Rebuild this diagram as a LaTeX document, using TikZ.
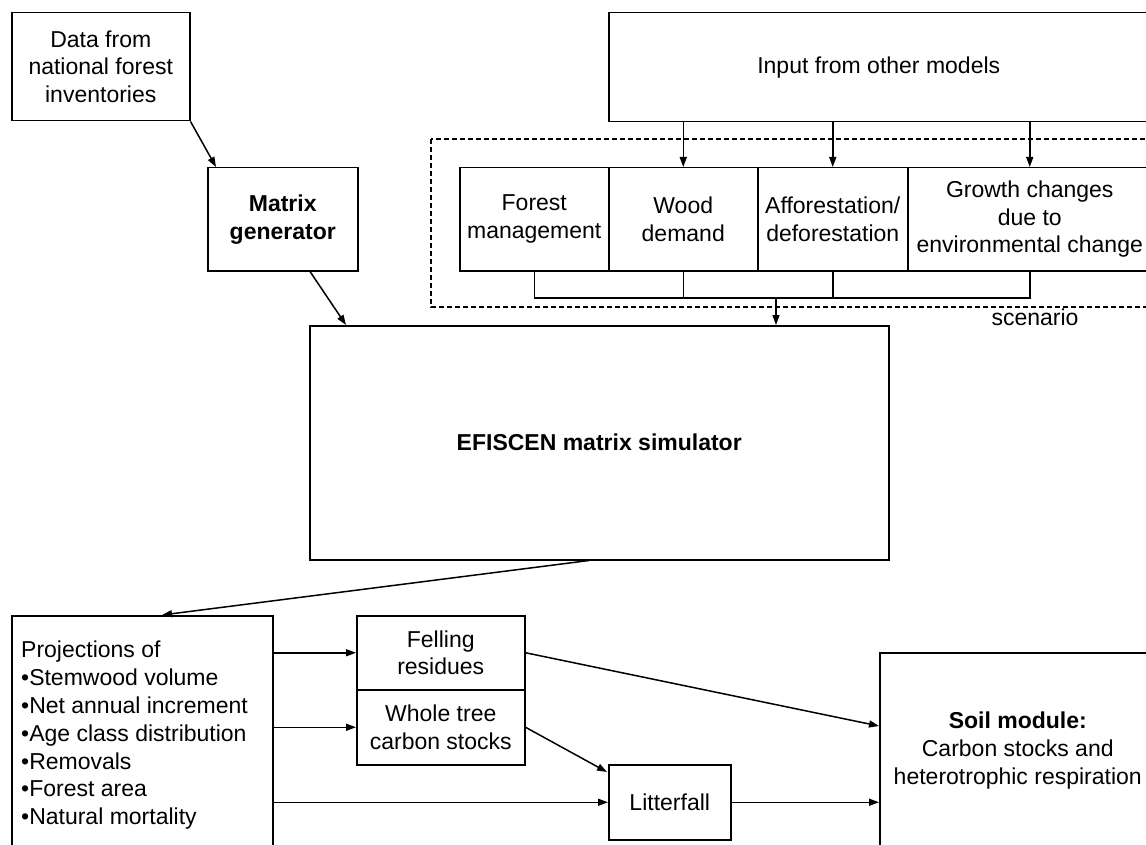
\documentclass[tikz,border=0pt]{standalone}
\usepackage{fontspec}
\setmainfont{Liberation Sans}
\usetikzlibrary{arrows.meta,calc}
\newcommand\dfont{\fontsize{23}{27.8}\selectfont}
\begin{document}
\begin{tikzpicture}[x=1pt,y=-1pt,
  box/.style={draw, line width=1.5pt, inner sep=0pt, align=center, font=\dfont, anchor=north west},
  conn/.style={line width=1.5pt},
  arr/.style={line width=1.5pt, -{Triangle[length=10pt,width=7pt]}},
  scenbox/.style={line width=1.2pt, dash pattern=on 5pt off 3pt},
  lbl/.style={font=\dfont, inner sep=0pt}]
\useasboundingbox (0,0) rectangle (1146,845);
\fill[white] (0,0) rectangle (1146,845);
\clip (0,0) rectangle (1146,845);

% boxes
\node[box, minimum width=178pt, minimum height=108pt] (data) at (11,12) {Data from\\national forest\\inventories};
\node[box, minimum width=150pt, minimum height=103pt, font=\dfont\bfseries] (mg) at (207,167) {Matrix\\generator};
\node[box, minimum width=540pt, minimum height=109pt] (input) at (608,12) {Input from other models};

\draw[scenbox] (431,139) rectangle (1160,307);

\node[box, minimum width=149pt, minimum height=103pt] (fm) at (459,167) {Forest\\management};
\node[box, minimum width=149pt, minimum height=103pt] (wood) at (608,167) {Wood\\demand};
\node[box, minimum width=150pt, minimum height=103pt] (aff) at (757,167) {Afforestation/\\deforestation};
\node[box, minimum width=244pt, minimum height=103pt] (growth) at (907,167) {Growth changes\\due to\\environmental change};
\node[lbl, anchor=base] (scen) at (1035,325) {scenario};

\node[box, minimum width=579pt, minimum height=234pt, font=\dfont\bfseries] (efi) at (309,325) {EFISCEN matrix simulator};

\node[box, minimum width=261pt, minimum height=245pt] (proj) at (11,615) {};
\node[lbl, anchor=north west, align=left] (projtxt) at (21,641) {Projections of\\\textbullet Stemwood volume\\\textbullet Net annual increment\\\textbullet Age class distribution\\\textbullet Removals\\\textbullet Forest area\\\textbullet Natural mortality};

\node[box, minimum width=168pt, minimum height=74pt] (fell) at (356,615) {Felling\\residues};
\node[box, minimum width=168pt, minimum height=75pt] (whole) at (356,689) {Whole tree\\carbon stocks};
\node[box, minimum width=122pt, minimum height=75pt] (litter) at (608,764) {Litterfall};
\node[box, minimum width=276pt, minimum height=196pt] (soil) at (879,652) {{\bfseries Soil module:}\\Carbon stocks and\\heterotrophic respiration};

% connectors
\draw[arr] (data.south east) -- ($(mg.north west)+(9,0)$);
\draw[arr] ($(mg.south west)+(103,0)$) -- ($(efi.north west)+(37,0)$);

\draw[arr] (wood.north |- input.south) -- (wood.north);
\draw[arr] (aff.north |- input.south) -- (aff.north);
\draw[arr] (growth.north |- input.south) -- (growth.north);

\coordinate (bus) at (776,298);
\draw[conn] (fm.south) -- (fm.south |- bus) -- (growth.south |- bus) -- (growth.south);
\draw[conn] (wood.south) -- (wood.south |- bus);
\draw[conn] (aff.south) -- (aff.south |- bus);
\draw[arr] (bus) -- (bus |- efi.north);

\draw[arr] ($(efi.south west)+(280,0)$) -- ($(proj.north west)+(151,0)$);

\draw[arr] (proj.east |- fell.west) -- (fell.west);
\draw[arr] (proj.east |- whole.west) -- (whole.west);
\draw[arr] (proj.east |- litter.west) -- (litter.west);

\draw[arr] (fell.east) -- ($(soil.north west)+(0,74)$);
\draw[arr] (whole.east) -- ($(litter.north west)+(-1,8)$);
\draw[arr] (litter.east) -- (litter.east -| soil.west);
\end{tikzpicture}
\end{document}
